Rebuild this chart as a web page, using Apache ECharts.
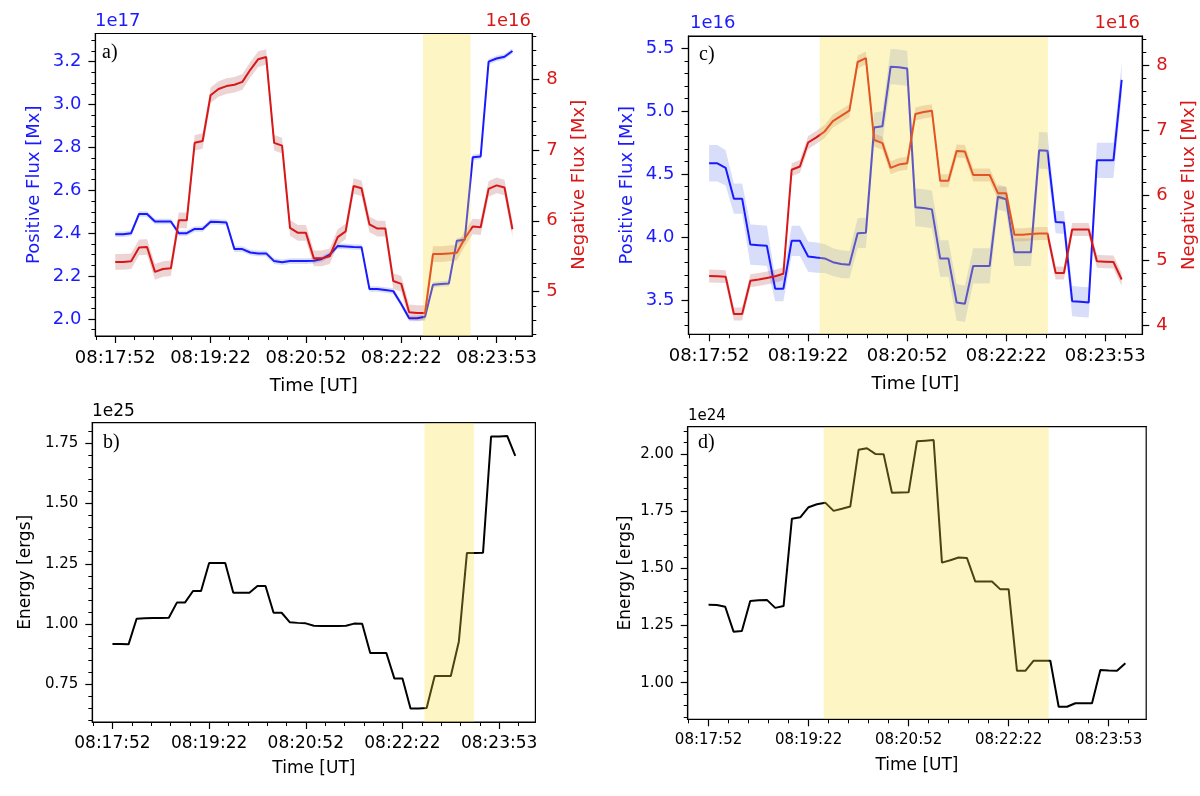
<!DOCTYPE html>
<html>
<head>
<meta charset="utf-8">
<script src="https://cdn.jsdelivr.net/npm/echarts@6/dist/echarts.min.js"></script>
<style>
html, body { margin: 0; padding: 0; background: #fff; }
#main { width: 1200px; height: 796px; }
</style>
</head>
<body>
<div id="main"></div>
<script>
// time of each frame, seconds after 08:17:52
const timeSec = [0, 7.5, 15, 22.5, 30, 37.5, 45, 52.5, 60, 67.5, 75, 82.5, 90, 97.5, 105, 112.5, 120, 127.5, 135, 142.5,
  150, 157.5, 165, 172.5, 180, 187.5, 195, 202.5, 210, 217.5, 225, 232.5, 240, 247.5, 255, 262.5, 270, 277.5, 285, 292.5,
  300, 307.5, 315, 322.5, 330, 337.5, 345, 352.5, 360, 367.5, 375];
const timeTicks = [0, 90, 180, 270, 360];
const timeLabels = ['08:17:52', '08:19:22', '08:20:52', '08:22:22', '08:23:53'];

// a) positive flux (1e17 Mx) and negative flux (1e16 Mx)
const aPos = [2.395, 2.395, 2.40, 2.49, 2.49, 2.455, 2.455, 2.455, 2.40, 2.40,
  2.42, 2.42, 2.454, 2.452, 2.45, 2.326, 2.326, 2.31, 2.306, 2.306,
  2.27, 2.265, 2.27, 2.27, 2.27, 2.272, 2.28, 2.30, 2.34, 2.338,
  2.336, 2.335, 2.14, 2.14, 2.135, 2.13, 2.07, 2.003, 2.003, 2.01,
  2.16, 2.163, 2.166, 2.365, 2.37, 2.754, 2.758, 3.2, 3.215, 3.223, 3.25];
const aNeg = [5.42, 5.42, 5.43, 5.625, 5.63, 5.28, 5.32, 5.33, 6.006, 6.006,
  7.1, 7.125, 7.77, 7.86, 7.90, 7.92, 7.96, 8.13, 8.28, 8.31,
  7.1, 7.06, 5.9, 5.83, 5.83, 5.47, 5.47, 5.5, 5.77, 5.85,
  6.49, 6.46, 5.95, 5.89, 5.89, 5.15, 5.11, 4.71, 4.70, 4.70,
  5.53, 5.53, 5.54, 5.55, 5.75, 5.92, 5.91, 6.45, 6.5, 6.47, 5.88];
const aPosErr = 0.013;
const aNegErr = 0.11;
const aSpan = [290.5, 335.5];
const aPosTicks = [2.0, 2.2, 2.4, 2.6, 2.8, 3.0, 3.2];
const aNegTicks = [5, 6, 7, 8];

// b) energy (1e25 erg)
const bEnergy = [0.917, 0.917, 0.916, 1.022, 1.024, 1.025, 1.025, 1.026, 1.089, 1.089,
  1.137, 1.137, 1.253, 1.253, 1.253, 1.13, 1.13, 1.13, 1.158, 1.158,
  1.047, 1.047, 1.008, 1.005, 1.003, 0.993, 0.992, 0.992, 0.992, 0.993,
  1.002, 1.001, 0.88, 0.88, 0.88, 0.774, 0.774, 0.65, 0.65, 0.652,
  0.785, 0.785, 0.785, 0.928, 1.295, 1.295, 1.296, 1.778, 1.778, 1.78, 1.697];
const bSpan = [290.5, 336.5];
const bTicks = [0.75, 1.00, 1.25, 1.50, 1.75];

// c) positive flux (1e16 Mx) and negative flux (1e16 Mx)
const cPos = [4.586, 4.586, 4.55, 4.305, 4.305, 3.94, 3.935, 3.93, 3.59, 3.59,
  3.97, 3.97, 3.845, 3.837, 3.83, 3.80, 3.785, 3.78, 4.03, 4.035,
  4.87, 4.88, 5.354, 5.35, 5.34, 4.236, 4.23, 4.22, 3.83, 3.83,
  3.48, 3.47, 3.77, 3.77, 3.77, 4.32, 4.30, 3.88, 3.88, 3.88,
  4.69, 4.685, 4.12, 4.115, 3.49, 3.485, 3.48, 4.61, 4.61, 4.61, 5.25];
const cPosErr = [0.145, 0.145, 0.14, 0.12, 0.12, 0.16, 0.16, 0.16, 0.10, 0.10,
  0.12, 0.12, 0.12, 0.12, 0.115, 0.11, 0.11, 0.11, 0.12, 0.12,
  0.12, 0.12, 0.14, 0.14, 0.14, 0.15, 0.15, 0.15, 0.145, 0.145,
  0.145, 0.145, 0.14, 0.14, 0.14, 0.10, 0.10, 0.11, 0.11, 0.11,
  0.145, 0.145, 0.09, 0.09, 0.12, 0.12, 0.12, 0.14, 0.14, 0.14, 0.13];
const cNeg = [4.755, 4.75, 4.745, 4.17, 4.17, 4.68, 4.70, 4.725, 4.75, 4.79,
  6.39, 6.44, 6.81, 6.89, 6.98, 7.14, 7.22, 7.30, 8.05, 8.11,
  6.85, 6.80, 6.42, 6.47, 6.49, 7.25, 7.28, 7.30, 6.22, 6.22,
  6.68, 6.67, 6.31, 6.31, 6.31, 6.03, 6.03, 5.39, 5.39, 5.40,
  5.41, 5.41, 4.80, 4.80, 5.47, 5.47, 5.47, 4.98, 4.975, 4.97, 4.70];
const cNegErr = 0.1;
const cSpan = [100.5, 308];
const cPosTicks = [3.5, 4.0, 4.5, 5.0, 5.5];
const cNegTicks = [4, 5, 6, 7, 8];

// d) energy (1e24 erg)
const dEnergy = [1.341, 1.34, 1.332, 1.223, 1.226, 1.357, 1.36, 1.362, 1.327, 1.335,
  1.717, 1.723, 1.767, 1.78, 1.787, 1.751, 1.76, 1.77, 2.018, 2.025,
  2.0, 1.999, 1.83, 1.831, 1.832, 2.055, 2.058, 2.061, 1.525, 1.535,
  1.547, 1.545, 1.442, 1.442, 1.442, 1.408, 1.408, 1.052, 1.052, 1.096,
  1.096, 1.096, 0.895, 0.895, 0.91, 0.91, 0.91, 1.055, 1.053, 1.052, 1.085];
const dSpan = [103.5, 306];
const dTicks = [1.00, 1.25, 1.50, 1.75, 2.00];

const FONT = 'DejaVu Sans';
const BLUE = '#1a1aff';
const RED = '#d81818';
const BLUE_BAND = 'rgba(60,90,230,0.2)';
const RED_BAND = 'rgba(160,40,40,0.2)';
const SPAN_COLOR = 'rgba(250,225,60,0.3)';
const X_MIN = -18.75, X_MAX = 393.75;

const option = {
  animation: false,
  backgroundColor: '#fff',
  grid: [], xAxis: [], yAxis: [], series: [], graphic: []
};

function stepsBetween(min, max, step) {
  const out = [];
  for (let k = Math.ceil(min / step - 1e-9); k * step <= max + 1e-9; k++) {
    out.push(+(k * step).toFixed(4));
  }
  return out;
}

function addGrid(l, t, r, b) {
  option.grid.push({left: l, top: t, width: r - l, height: b - t, show: true,
    borderColor: '#000', borderWidth: 1.2});
  return option.grid.length - 1;
}

function addX(g, fs, nameFs, nameGap) {
  const idx = option.xAxis.length;
  option.xAxis.push({
    type: 'value', gridIndex: g, position: 'bottom', min: X_MIN, max: X_MAX, z: 20,
    name: 'Time [UT]', nameLocation: 'middle', nameGap: nameGap,
    nameTextStyle: {fontFamily: FONT, fontSize: nameFs, color: '#000'},
    axisLine: {show: true, onZero: false, lineStyle: {color: '#000', width: 1.2}},
    axisTick: {customValues: timeTicks, length: 7, lineStyle: {color: '#000', width: 1.2}},
    axisLabel: {customValues: timeTicks, fontFamily: FONT, fontSize: fs, color: '#000', margin: 13,
      formatter: v => timeLabels[timeTicks.indexOf(v)]},
    splitLine: {show: false}
  });
  option.xAxis.push({
    type: 'value', gridIndex: g, position: 'bottom', min: X_MIN, max: X_MAX, z: 20,
    axisLine: {show: false, onZero: false},
    axisTick: {customValues: stepsBetween(X_MIN, X_MAX, 18), length: 4, lineStyle: {color: '#000', width: 1}},
    axisLabel: {show: false},
    splitLine: {show: false}
  });
  // top frame line drawn above the shaded span
  option.xAxis.push({
    type: 'value', gridIndex: g, position: 'top', min: X_MIN, max: X_MAX, z: 20,
    axisLine: {show: true, onZero: false, lineStyle: {color: '#000', width: 1.2}},
    axisTick: {show: false}, axisLabel: {show: false}, splitLine: {show: false}
  });
  return idx;
}

function addY(g, side, min, max, ticks, minorStep, digits, color, fs, title, titleFs, titleGap) {
  const idx = option.yAxis.length;
  option.yAxis.push({
    type: 'value', gridIndex: g, position: side, min: min, max: max, z: 20,
    name: title, nameLocation: 'middle', nameGap: titleGap,
    nameTextStyle: {fontFamily: FONT, fontSize: titleFs, color: color},
    axisLine: {show: true, onZero: false, lineStyle: {color: '#000', width: 1.2}},
    axisTick: {customValues: ticks, length: 7, lineStyle: {color: '#000', width: 1.2}},
    axisLabel: {customValues: ticks, fontFamily: FONT, fontSize: fs, color: color, margin: 14,
      formatter: v => v.toFixed(digits)},
    splitLine: {show: false}
  });
  option.yAxis.push({
    type: 'value', gridIndex: g, position: side, min: min, max: max, z: 20,
    axisLine: {show: false, onZero: false},
    axisTick: {customValues: stepsBetween(min, max, minorStep), length: 4, lineStyle: {color: '#000', width: 1}},
    axisLabel: {show: false},
    splitLine: {show: false}
  });
  return idx;
}

function bandSeries(xi, yi, vals, err, color, z) {
  const e = i => Array.isArray(err) ? err[i] : err;
  return {
    type: 'custom', xAxisIndex: xi, yAxisIndex: yi, silent: true, clip: true, z: z,
    data: [[timeSec[0], vals[0]]],
    renderItem: function (params, api) {
      const pts = [];
      for (let i = 0; i < timeSec.length; i++) pts.push(api.coord([timeSec[i], vals[i] + e(i)]));
      for (let i = timeSec.length - 1; i >= 0; i--) pts.push(api.coord([timeSec[i], vals[i] - e(i)]));
      return {type: 'polygon', shape: {points: pts}, style: {fill: color}};
    }
  };
}

function lineSeries(xi, yi, vals, color, z) {
  return {
    type: 'line', xAxisIndex: xi, yAxisIndex: yi, z: z, silent: true,
    data: timeSec.map((t, i) => [t, vals[i]]),
    symbol: 'none', showSymbol: false,
    lineStyle: {color: color, width: 2}, itemStyle: {color: color}
  };
}

function spanSeries(xi, yi, span) {
  return {
    type: 'line', xAxisIndex: xi, yAxisIndex: yi, data: [], z: 10, silent: true,
    markArea: {silent: true, z: 10, itemStyle: {color: SPAN_COLOR},
      data: [[{xAxis: span[0]}, {xAxis: span[1]}]]}
  };
}

function addText(x, y, txt, color, font, align) {
  option.graphic.push({type: 'text', x: x, y: y, z: 100, silent: true,
    style: {text: txt, fill: color, font: font, align: align || 'left', verticalAlign: 'middle'}});
}

// panel a
let g = addGrid(95.4, 33.5, 532.3, 336);
let xi = addX(g, 18, 18, 41);
let yl = addY(g, 'left', 1.9207, 3.3315, aPosTicks, 0.05, 1, BLUE, 18, 'Positive Flux [Mx]', 18, 52);
let yr = addY(g, 'right', 4.375, 8.642, aNegTicks, 0.2, 0, RED, 18, 'Negative Flux [Mx]', 18, 38);
option.series.push(bandSeries(xi, yl, aPos, aPosErr, BLUE_BAND, 1));
option.series.push(lineSeries(xi, yl, aPos, BLUE, 2));
option.series.push(bandSeries(xi, yr, aNeg, aNegErr, RED_BAND, 3));
option.series.push(lineSeries(xi, yr, aNeg, RED, 4));
option.series.push(spanSeries(xi, yl, aSpan));
addText(95, 21, '1e17', BLUE, '18px "DejaVu Sans"');
addText(531, 21, '1e16', RED, '18px "DejaVu Sans"', 'right');
addText(102, 53, 'a)', '#000', '20px "Liberation Serif"');

// panel b
g = addGrid(92.3, 422.7, 535.4, 722);
xi = addX(g, 17, 17, 38);
yl = addY(g, 'left', 0.594, 1.835, bTicks, 0.05, 2, '#000', 15, 'Energy [ergs]', 17, 58);
option.series.push(lineSeries(xi, yl, bEnergy, '#000', 4));
option.series.push(spanSeries(xi, yl, bSpan));
addText(92, 412, '1e25', '#000', '17px "DejaVu Sans"');
addText(103, 443, 'b)', '#000', '20px "Liberation Serif"');

// panel c
g = addGrid(688.5, 36, 1142.3, 334.3);
xi = addX(g, 18, 18, 41);
yl = addY(g, 'left', 3.227, 5.598, cPosTicks, 0.1, 1, BLUE, 18, 'Positive Flux [Mx]', 18, 52);
yr = addY(g, 'right', 3.857, 8.45, cNegTicks, 0.2, 0, RED, 18, 'Negative Flux [Mx]', 18, 38);
option.series.push(bandSeries(xi, yl, cPos, cPosErr, BLUE_BAND, 1));
option.series.push(lineSeries(xi, yl, cPos, BLUE, 2));
option.series.push(bandSeries(xi, yr, cNeg, cNegErr, RED_BAND, 3));
option.series.push(lineSeries(xi, yr, cNeg, RED, 4));
option.series.push(spanSeries(xi, yl, cSpan));
addText(690, 23, '1e16', BLUE, '18px "DejaVu Sans"');
addText(1140, 23, '1e16', RED, '18px "DejaVu Sans"', 'right');
addText(699, 55, 'c)', '#000', '20px "Liberation Serif"');

// panel d
g = addGrid(687.7, 426.7, 1146.2, 719.3);
xi = addX(g, 15, 17, 38);
yl = addY(g, 'left', 0.84, 2.119, dTicks, 0.05, 2, '#000', 15, 'Energy [ergs]', 17, 54);
option.series.push(lineSeries(xi, yl, dEnergy, '#000', 4));
option.series.push(spanSeries(xi, yl, dSpan));
addText(688, 416, '1e24', '#000', '15px "DejaVu Sans"');
addText(698, 443, 'd)', '#000', '20px "Liberation Serif"');

const chart = echarts.init(document.getElementById('main'));
chart.setOption(option);
</script>
</body>
</html>
